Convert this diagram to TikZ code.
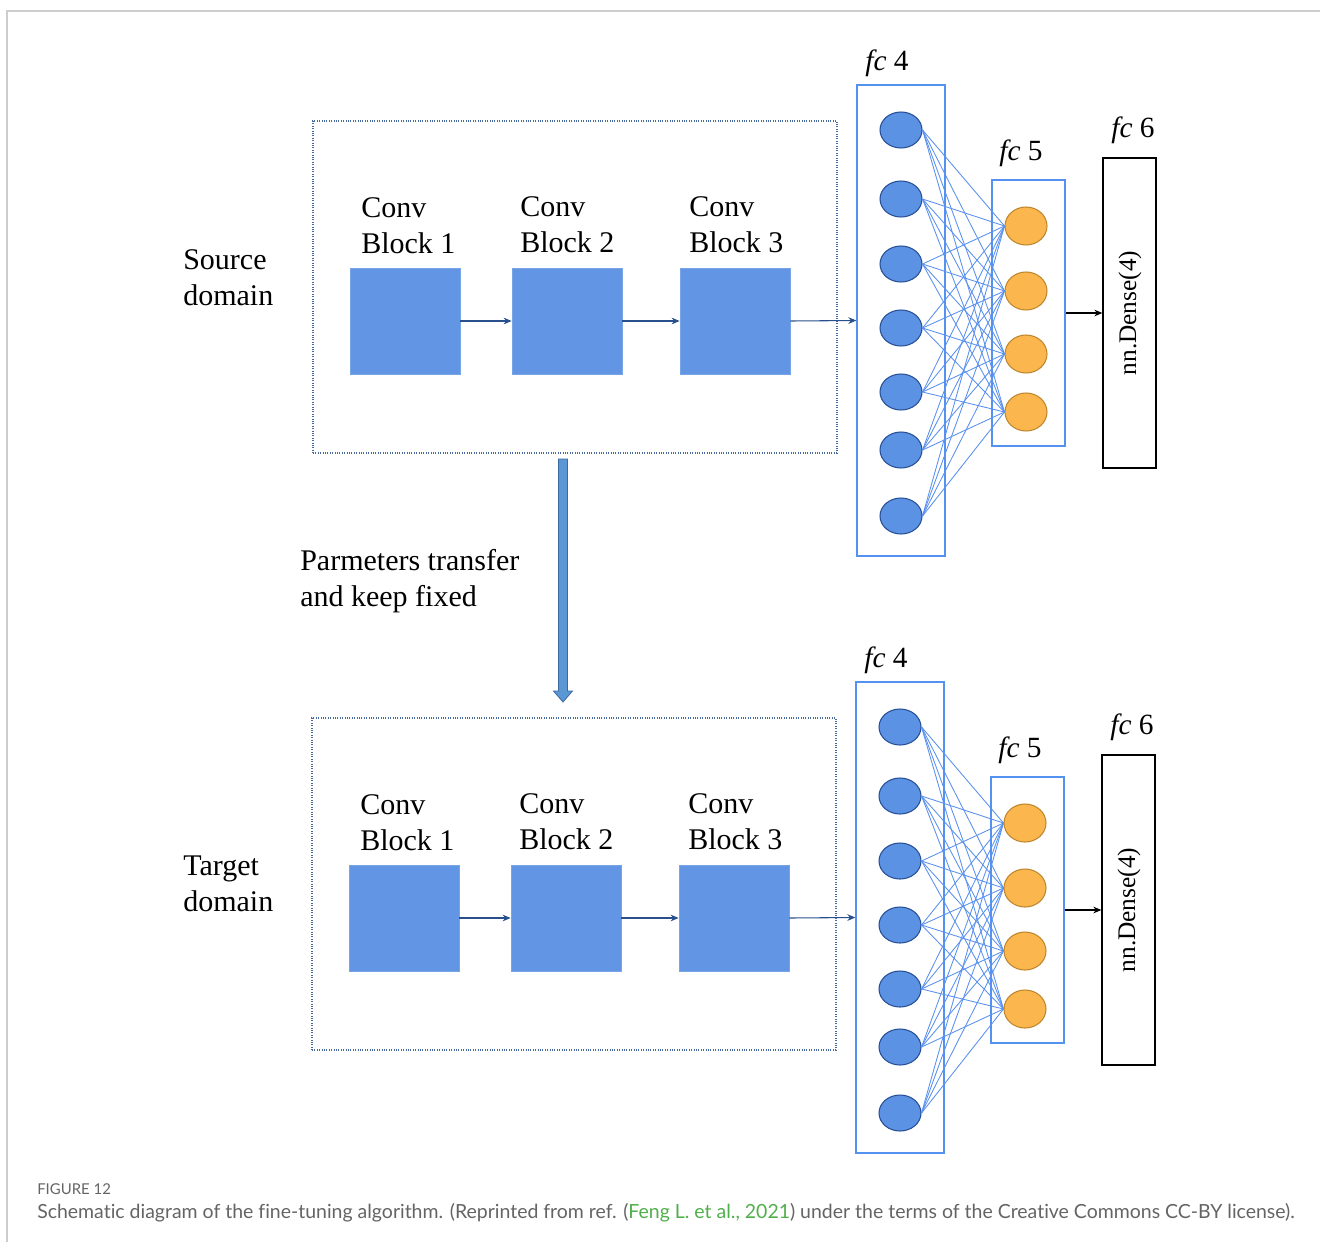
\documentclass[tikz,border=0pt]{standalone}
\usepackage{fontspec}
\setmainfont{Liberation Serif}
\newfontfamily\capfont[Ligatures=NoCommon]{Lato}
\usetikzlibrary{shapes.geometric,arrows.meta,calc}
\definecolor{blockblue}{RGB}{98,150,228}
\definecolor{blockedge}{RGB}{120,165,230}
\definecolor{dotcol}{RGB}{70,105,160}
\definecolor{arrowcol}{RGB}{40,80,140}
\definecolor{layercol}{RGB}{85,145,240}
\definecolor{neurblue}{RGB}{92,146,228}
\definecolor{neuredge}{RGB}{40,80,150}
\definecolor{neurorange}{RGB}{252,182,78}
\definecolor{orangeedge}{RGB}{190,135,45}
\definecolor{linkcol}{RGB}{90,145,238}
\definecolor{bigfill}{RGB}{91,150,213}
\definecolor{bigedge}{RGB}{60,105,160}
\definecolor{capgray}{RGB}{100,100,100}
\definecolor{capgreen}{RGB}{80,175,75}
\definecolor{framegray}{RGB}{205,205,205}
\tikzset{
 block/.style={rectangle, fill=blockblue, draw=blockedge, line width=0.6pt, minimum width=82.5pt, minimum height=79.5pt, inner sep=0},
 domainbox/.style={rectangle, draw=dotcol, densely dotted, line width=0.8pt, minimum width=393pt, minimum height=249pt, inner sep=0},
 lbl/.style={font=\fontsize{22.5}{27}\selectfont, align=left, inner sep=0},
 fclbl/.style={font=\fontsize{22}{27}\selectfont, inner sep=0},
 flow/.style={-{Stealth[length=6pt,width=5pt]}, draw=arrowcol, line width=0.8pt},
 layerbox/.style={rectangle, draw=layercol, line width=1pt, inner sep=0},
 bneuron/.style={ellipse, fill=neurblue, draw=neuredge, line width=0.8pt, minimum width=31.5pt, minimum height=27pt, inner sep=0},
 oneuron/.style={ellipse, fill=neurorange, draw=orangeedge, line width=0.8pt, minimum width=31.5pt, minimum height=28.5pt, inner sep=0},
 link/.style={draw=linkcol, line width=0.65pt},
 densebox/.style={rectangle, draw=black, line width=1pt, minimum width=39.75pt, minimum height=232.5pt, inner sep=0},
 blackflow/.style={-{Stealth[length=6pt,width=5pt]}, draw=black, line width=0.8pt},
}
\newcommand\domainpart[1]{%
 \node[domainbox] (#1dom) at (575,287) {};
 \node[block] (#1b1) at (405,321) {};
 \node[block] (#1b2) at (567,321) {};
 \node[block] (#1b3) at (735,321) {};
 \node[lbl, anchor=west] (#1t1) at (361,226) {Conv\\Block 1};
 \node[lbl, anchor=west] (#1t2) at (520,225) {Conv\\Block 2};
 \node[lbl, anchor=west] (#1t3) at (689,225) {Conv\\Block 3};
 \node[layerbox, minimum width=66pt, minimum height=353.25pt] (#1fc4) at (901,320.5) {};
 \node[fclbl] (#1l4) at (887,63) {\textit{fc} 4};
 \foreach \i/\y in {1/130,2/199,3/264,4/328,5/392,6/450,7/516} {\node[bneuron] (#1c\i) at (901,\y) {};}
 \node[layerbox, minimum width=54.75pt, minimum height=199.5pt] (#1fc5) at (1028.5,313) {};
 \node[fclbl] (#1l5) at (1021,153) {\textit{fc} 5};
 \foreach \j/\y in {1/226,2/291,3/354,4/412} {\node[oneuron] (#1o\j) at (1026,\y) {};}
 \foreach \i in {1,...,7}{\foreach \j in {1,...,4}{\draw[link] (#1c\i.east) -- (#1o\j.west);}}
 \node[densebox] (#1fc6) at (1129.5,313) {};
 \node[rotate=90, font=\fontsize{19}{22}\selectfont, inner sep=0] (#1dn) at (1130,313) {nn.Dense(4)};
 \node[fclbl] (#1l6) at (1133,130) {\textit{fc} 6};
 \draw[flow] (#1b1.east) -- (#1b2.west);
 \draw[flow] (#1b2.east) -- (#1b3.west);
 \draw[flow] (#1b3.east) -- (#1fc4.west);
 \draw[blackflow] (#1fc5.east) -- (#1fc6.west);
}
\begin{document}
\begin{tikzpicture}[x=0.75pt,y=-0.75pt]
\useasboundingbox (0,0) rectangle (1320,1242);
\draw[framegray, line width=1.2pt] (7,1242) -- (7,11) -- (1320,11);
\domainpart{s}
\begin{scope}[shift={(-1,597)}]
\domainpart{t}
\end{scope}
\node[lbl, anchor=west] (srcl) at (183,278) {Source\\domain};
\node[lbl, anchor=west] (tgtl) at (183,883.5) {Target\\domain};
\node[lbl, anchor=west] (parl) at (300,581) {Parmeters transfer\\and keep fixed};
\coordinate (gtop) at (563,459);
\coordinate (gbot) at (563,702);
\filldraw[fill=bigfill, draw=bigedge, line width=0.6pt]
 ($(gtop)+(-4.5,0)$) -- ($(gtop)+(4.5,0)$) -- ($(gbot)+(4.5,-11)$) -- ($(gbot)+(9.5,-11)$) -- (gbot) -- ($(gbot)+(-9.5,-11)$) -- ($(gbot)+(-4.5,-11)$) -- cycle;
\node[anchor=base west, font=\capfont\fontsize{11.2}{12}\selectfont, text=capgray, inner sep=0] (fig) at (37,1194) {FIGURE 12};
\node[anchor=base west, font=\capfont\fontsize{14.6}{16}\selectfont, text=capgray, inner sep=0] (cap) at (37,1218) {Schematic diagram of the fine-tuning algorithm. (Reprinted from ref. (\textcolor{capgreen}{Feng L. et al., 2021}) under the terms of the Creative Commons CC-BY license).};
\end{tikzpicture}
\end{document}
